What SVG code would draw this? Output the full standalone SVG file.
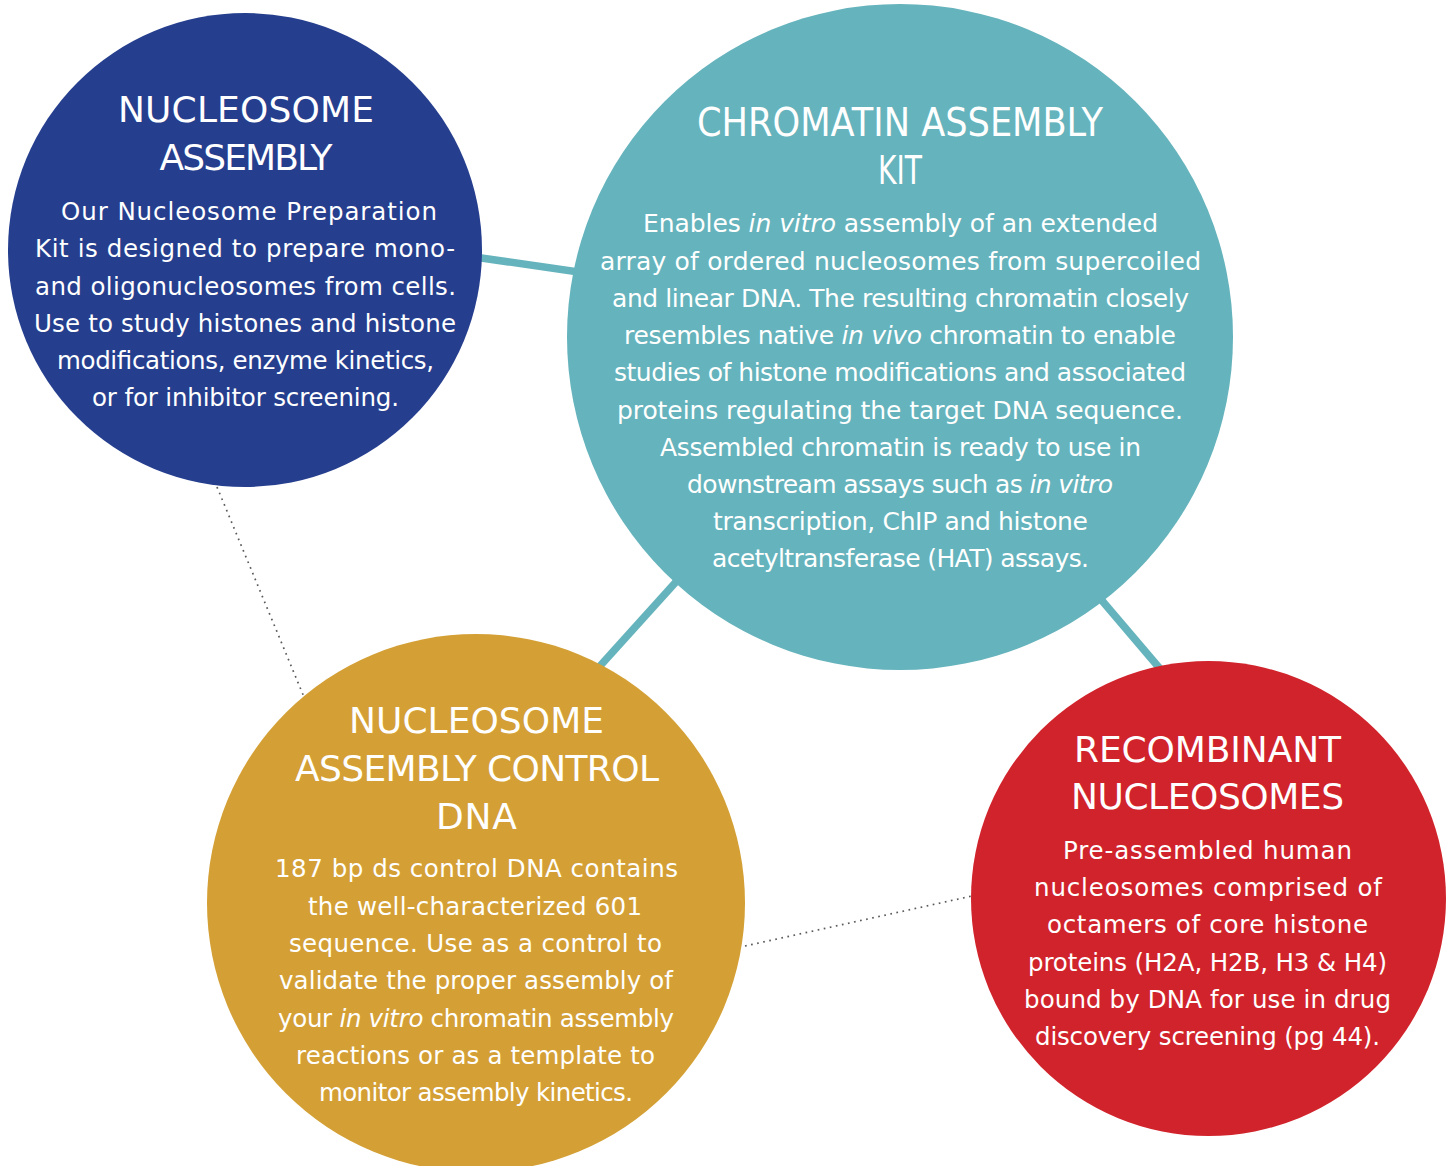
<svg xmlns="http://www.w3.org/2000/svg" width="1452" height="1166" viewBox="0 0 1452 1166">
<style>
.t{font-family:"DejaVu Sans","Liberation Sans",sans-serif;fill:#ffffff;text-anchor:middle}
.h{font-size:36px}
.b{font-size:24.5px}
.th{font-size:39px}
.tb{font-size:25px}
.i{font-style:italic}
.thick{stroke:#65B3BC;stroke-width:7.5;fill:none}
.dot{stroke:#5a5a5a;stroke-width:1.7;stroke-dasharray:1.7 4.5;fill:none}
</style>
<rect width="1452" height="1166" fill="#ffffff"/>
<g id="connectors">
<line class="thick" x1="440" y1="252" x2="620" y2="278"/>
<line class="thick" x1="712" y1="542" x2="572" y2="697"/>
<line class="thick" x1="1070" y1="563" x2="1190" y2="704"/>
<line class="dot" x1="217" y1="487" x2="304" y2="697"/>
<line class="dot" x1="745" y1="946" x2="972" y2="896"/>
</g>
<g id="node-nucleosome-assembly">
<circle cx="245" cy="250" r="237" fill="#253E8E"/>
<text class="t h" x="246" y="122" textLength="256">NUCLEOSOME</text>
<text class="t h" x="246" y="170" textLength="173">ASSEMBLY</text>
<text class="t b" x="249" y="220" textLength="376">Our Nucleosome Preparation</text>
<text class="t b" x="245" y="257" textLength="420">Kit is designed to prepare mono-</text>
<text class="t b" x="245.5" y="295" textLength="421">and oligonucleosomes from cells.</text>
<text class="t b" x="245" y="332" textLength="422">Use to study histones and histone</text>
<text class="t b" x="245.5" y="369" textLength="377">modifications, enzyme kinetics,</text>
<text class="t b" x="245.5" y="406" textLength="307">or for inhibitor screening.</text>
</g>
<g id="node-chromatin-assembly-kit">
<circle cx="900" cy="337" r="333" fill="#65B3BC"/>
<text class="t th" x="900" y="136" textLength="406" lengthAdjust="spacingAndGlyphs">CHROMATIN ASSEMBLY</text>
<text class="t th" x="900" y="184" textLength="44" lengthAdjust="spacingAndGlyphs">KIT</text>
<text class="t tb" x="900.5" y="232" textLength="515">Enables <tspan class="i">in vitro</tspan> assembly of an extended</text>
<text class="t tb" x="900.5" y="270" textLength="601">array of ordered nucleosomes from supercoiled</text>
<text class="t tb" x="900.5" y="307" textLength="577">and linear DNA. The resulting chromatin closely</text>
<text class="t tb" x="900" y="344" textLength="552">resembles native <tspan class="i">in vivo</tspan> chromatin to enable</text>
<text class="t tb" x="900" y="381" textLength="572">studies of histone modifications and associated</text>
<text class="t tb" x="900" y="419" textLength="566">proteins regulating the target DNA sequence.</text>
<text class="t tb" x="900.5" y="456" textLength="481">Assembled chromatin is ready to use in</text>
<text class="t tb" x="900" y="493" textLength="426">downstream assays such as <tspan class="i">in vitro</tspan></text>
<text class="t tb" x="900.5" y="530" textLength="375">transcription, ChIP and histone</text>
<text class="t tb" x="900.5" y="567" textLength="377">acetyltransferase (HAT) assays.</text>
</g>
<g id="node-control-dna">
<circle cx="476" cy="903" r="269" fill="#D4A035"/>
<text class="t h" x="476.5" y="733" textLength="255">NUCLEOSOME</text>
<text class="t h" x="477" y="781" textLength="364">ASSEMBLY CONTROL</text>
<text class="t h" x="476.5" y="829" textLength="81">DNA</text>
<text class="t b" x="476.5" y="877" textLength="403">187 bp ds control DNA contains</text>
<text class="t b" x="475" y="915" textLength="334">the well-characterized 601</text>
<text class="t b" x="475.5" y="952" textLength="373">sequence. Use as a control to</text>
<text class="t b" x="476" y="989" textLength="394">validate the proper assembly of</text>
<text class="t b" x="476" y="1027" textLength="396">your <tspan class="i">in vitro</tspan> chromatin assembly</text>
<text class="t b" x="475.5" y="1064" textLength="359">reactions or as a template to</text>
<text class="t b" x="476" y="1101" textLength="314">monitor assembly kinetics.</text>
</g>
<g id="node-recombinant-nucleosomes">
<circle cx="1208.5" cy="898.5" r="237.5" fill="#D1232B"/>
<text class="t h" x="1207.5" y="762" textLength="267">RECOMBINANT</text>
<text class="t h" x="1207.5" y="809" textLength="273">NUCLEOSOMES</text>
<text class="t b" x="1207.5" y="859" textLength="289">Pre-assembled human</text>
<text class="t b" x="1208" y="896" textLength="348">nucleosomes comprised of</text>
<text class="t b" x="1207.5" y="933" textLength="321">octamers of core histone</text>
<text class="t b" x="1207.5" y="971" textLength="359">proteins (H2A, H2B, H3 &amp; H4)</text>
<text class="t b" x="1207.5" y="1008" textLength="367">bound by DNA for use in drug</text>
<text class="t b" x="1207.5" y="1045" textLength="345">discovery screening (pg 44).</text>
</g>
</svg>
